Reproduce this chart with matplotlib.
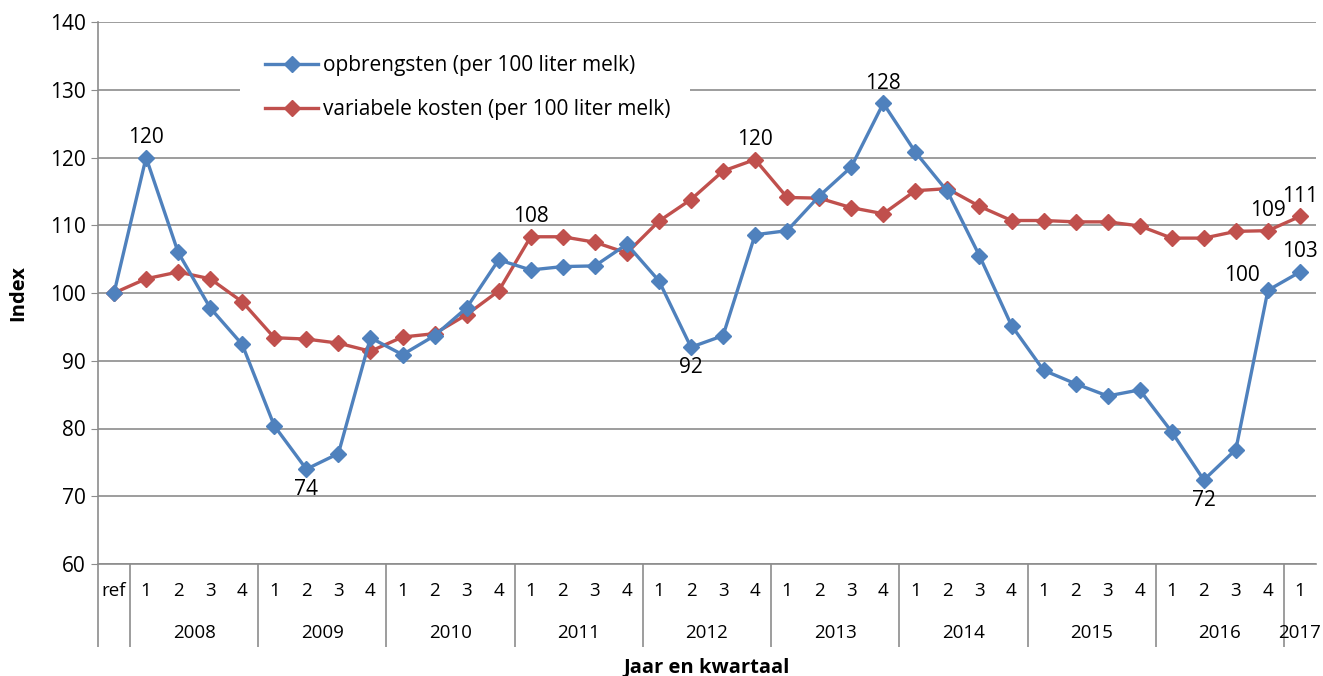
import matplotlib.pyplot as plt
from matplotlib.lines import Line2D
from matplotlib.patches import Rectangle

plt.rcParams['font.family'] = ['Open Sans', 'DejaVu Sans']

quarters = ['ref'] + ['1', '2', '3', '4'] * 9 + ['1']
years = ['2008', '2009', '2010', '2011', '2012', '2013', '2014', '2015', '2016', '2017']

opbrengsten = [100, 120.0, 106.0, 97.8, 92.4,
               80.4, 74.0, 76.3, 93.4,
               90.9, 93.7, 97.8, 104.9,
               103.4, 103.9, 104.0, 107.2,
               101.8, 92.0, 93.7, 108.6,
               109.2, 114.3, 118.6, 128.0,
               120.8, 115.0, 105.5, 95.2,
               88.6, 86.6, 84.8, 85.7,
               79.5, 72.4, 76.9, 100.4,
               103.1]
kosten = [100, 102.1, 103.1, 102.1, 98.7,
          93.4, 93.2, 92.6, 91.4,
          93.5, 94.0, 96.8, 100.3,
          108.3, 108.3, 107.5, 105.9,
          110.6, 113.8, 118.0, 119.7,
          114.1, 114.0, 112.6, 111.7,
          115.1, 115.4, 112.8, 110.7,
          110.7, 110.5, 110.5, 109.9,
          108.1, 108.1, 109.1, 109.2,
          111.3]

# (series, index, text, position)
labels = [
    ('b', 1, '120', 'above'), ('b', 6, '74', 'below'), ('b', 18, '92', 'below'),
    ('b', 24, '128', 'above'), ('b', 34, '72', 'below'), ('b', 36, '100', 'left'),
    ('b', 37, '103', 'above'),
    ('r', 13, '108', 'above'), ('r', 20, '120', 'above'), ('r', 36, '109', 'above'),
    ('r', 37, '111', 'above'),
]

blue = '#4F81BD'
red = '#C0504D'
grid = '#8C8C8C'

fig = plt.figure(figsize=(13.23, 6.76), dpi=100)
ax = fig.add_axes([98 / 1323, 112 / 676, 1218 / 1323, 542 / 676])

x = list(range(len(quarters)))
ax.plot(x, opbrengsten, color=blue, lw=2.4, marker='D', ms=8, zorder=4)
ax.plot(x, kosten, color=red, lw=2.4, marker='D', ms=8, zorder=3)

ax.set_xlim(-0.5, len(quarters) - 0.5)
ax.set_ylim(60, 140)
ax.set_yticks(range(60, 141, 10))
ax.yaxis.grid(True, color=grid, lw=1.2)
ax.set_axisbelow(True)
for s in ['top', 'right']:
    ax.spines[s].set_visible(False)
for s in ['left', 'bottom']:
    ax.spines[s].set_color(grid)
    ax.spines[s].set_linewidth(1.2)
ax.tick_params(axis='y', length=5, color=grid, labelsize=15, pad=4)

# year boundaries as long ticks
bounds = [-0.5, 0.5] + [0.5 + 4 * i for i in range(1, 10)]
ax.set_xticks(bounds)
ax.set_xticklabels([''] * len(bounds))
ax.tick_params(axis='x', length=60, color=grid, width=1.2)

xt = ax.get_xaxis_transform()
for i, q in enumerate(quarters):
    ax.text(i, -0.05, q, transform=xt, ha='center', va='center', fontsize=13.5)
for k, yr in enumerate(years):
    if k < 9:
        c = 2.5 + 4 * k
    else:
        c = 37
    ax.text(c, -0.128, yr, transform=xt, ha='center', va='center', fontsize=13.5)

fig.text(707 / 1323, 1 - 667 / 676, 'Jaar en kwartaal', fontsize=14.5,
         fontweight='bold', ha='center', va='center')
fig.text(18 / 1323, 1 - 293 / 676, 'Index', fontsize=14.5, fontweight='bold',
         ha='center', va='center', rotation=90)

for ser, i, t, pos in labels:
    yv = opbrengsten[i] if ser == 'b' else kosten[i]
    if pos == 'above':
        ax.annotate(t, (i, yv), xytext=(0, 7), textcoords='offset points',
                    ha='center', va='bottom', fontsize=15)
    elif pos == 'below':
        ax.annotate(t, (i, yv), xytext=(0, -7), textcoords='offset points',
                    ha='center', va='top', fontsize=15)
    else:
        ax.annotate(t, (i, yv), xytext=(-6, 3), textcoords='offset points',
                    ha='right', va='bottom', fontsize=15)

# white box behind the legend, hiding the gridline
ax.add_patch(Rectangle(((240 - 98) / 1218, (564 - 125) / 542), 450 / 1218, 80 / 542,
                       transform=ax.transAxes, facecolor='white', edgecolor='none',
                       zorder=2))

handles = [Line2D([], [], color=blue, lw=2.4, marker='D', ms=8),
           Line2D([], [], color=red, lw=2.4, marker='D', ms=8)]
leg = ax.legend(handles, ['opbrengsten (per 100 liter melk)',
                          'variabele kosten (per 100 liter melk)'],
                loc='upper left', bbox_to_anchor=((265 - 98) / 1218, (564 - 55) / 542),
                frameon=False, fontsize=15, handlelength=2.55, labelspacing=1.1,
                borderpad=0, borderaxespad=0, handletextpad=0.25)
leg.set_zorder(5)

fig.savefig('out.png', dpi=100)
